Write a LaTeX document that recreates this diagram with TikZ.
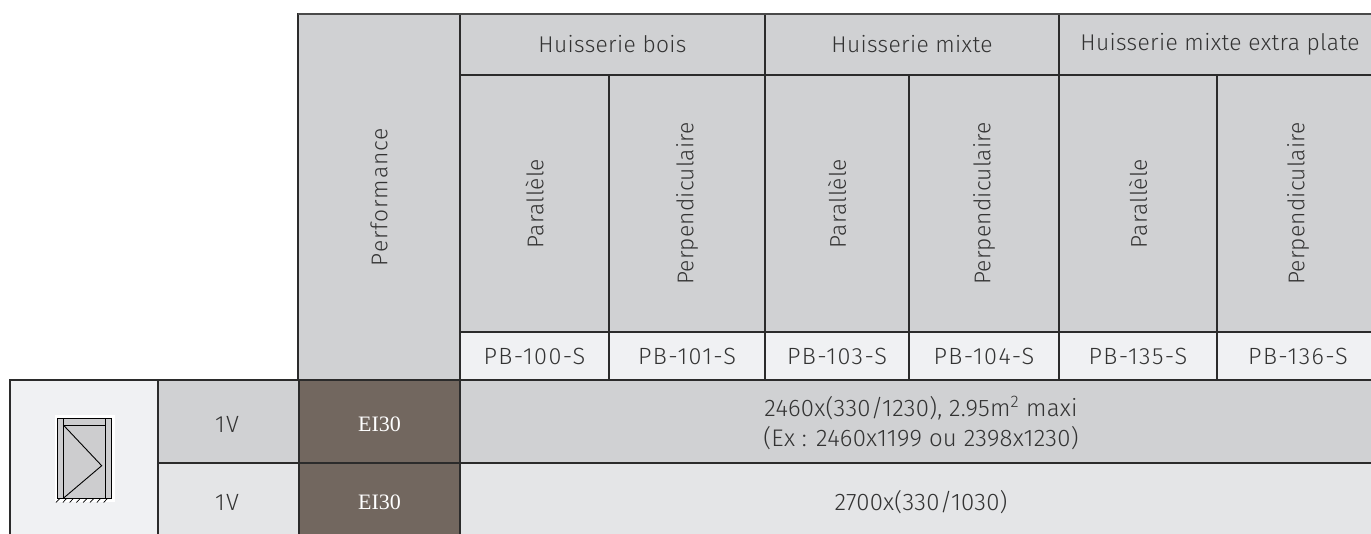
\documentclass[tikz,border=0pt]{standalone}
\usepackage{fontspec}
\setmainfont{Fira Sans}[UprightFont=* Light]
\newfontfamily\hfont{Fira Sans}[UprightFont=* Light, LetterSpace=1.5]
\newfontfamily\pfont{Fira Sans}[UprightFont=* Light, LetterSpace=4]
\newfontfamily\vfont{Fira Sans}[UprightFont=* Light, LetterSpace=1]
\newfontfamily\cfont{Fira Sans}[UprightFont=* Light, LetterSpace=6]
\newfontfamily\dfont{Fira Sans}[UprightFont=* Light, LetterSpace=1]
\newfontfamily\onefont{Fira Sans}[UprightFont=* Light, LetterSpace=6]
\newfontfamily\serifnum{Liberation Serif}
\definecolor{hdr}{HTML}{D0D1D3}
\definecolor{light}{HTML}{F0F1F3}
\definecolor{rowtwo}{HTML}{E4E5E7}
\definecolor{perf}{HTML}{72675F}
\definecolor{linec}{HTML}{2B2B2B}
\definecolor{topline}{HTML}{4A4A4A}
\definecolor{txtc}{HTML}{333333}
\definecolor{iconfill}{HTML}{CDCDCF}
\begin{document}
\begin{tikzpicture}[x=1pt,y=-1pt,
  cell/.style={draw=linec, line width=1.6pt, inner sep=0pt, outer sep=0pt, anchor=north west},
  txt/.style={inner sep=0pt, text=txtc},
  htxt/.style={txt, font=\hfont\fontsize{22.8}{26}\selectfont},
  ptxt/.style={txt, rotate=90, font=\pfont\fontsize{22.8}{26}\selectfont},
  vtxt/.style={txt, rotate=90, font=\vfont\fontsize{22.8}{26}\selectfont},
  ctxt/.style={txt, font=\cfont\fontsize{23.5}{26}\selectfont},
  onetxt/.style={txt, font=\onefont\fontsize{23.5}{26}\selectfont},
  dtxt/.style={txt, align=center, font=\dfont\fontsize{24}{29.3}\selectfont},
  eitxt/.style={inner sep=0pt, text=white, font=\serifnum\fontsize{22}{26}\selectfont},
  iconline/.style={draw=black, line width=0.9pt}]
\useasboundingbox (0,0) rectangle (1371,533);
\clip (0,0) rectangle (1371,533);
% header cells
\node[cell, fill=hdr, minimum width=162pt, minimum height=366pt] (perf) at (298,14) {};
\node[cell, fill=hdr, minimum width=305pt, minimum height=61pt] (hb) at (460,14) {};
\node[cell, fill=hdr, minimum width=294pt, minimum height=61pt] (hm) at (765,14) {};
\node[cell, fill=hdr, minimum width=330pt, minimum height=61pt] (hx) at (1059,14) {};
% orientation cells
\node[cell, fill=hdr, minimum width=149pt, minimum height=257pt] (o1) at (460,75) {};
\node[cell, fill=hdr, minimum width=156pt, minimum height=257pt] (o2) at (609,75) {};
\node[cell, fill=hdr, minimum width=144pt, minimum height=257pt] (o3) at (765,75) {};
\node[cell, fill=hdr, minimum width=150pt, minimum height=257pt] (o4) at (909,75) {};
\node[cell, fill=hdr, minimum width=158pt, minimum height=257pt] (o5) at (1059,75) {};
\node[cell, fill=hdr, minimum width=163pt, minimum height=257pt] (o6) at (1217,75) {};
% code cells
\node[cell, fill=light, minimum width=149pt, minimum height=48pt] (c1) at (460,332) {};
\node[cell, fill=light, minimum width=156pt, minimum height=48pt] (c2) at (609,332) {};
\node[cell, fill=light, minimum width=144pt, minimum height=48pt] (c3) at (765,332) {};
\node[cell, fill=light, minimum width=150pt, minimum height=48pt] (c4) at (909,332) {};
\node[cell, fill=light, minimum width=158pt, minimum height=48pt] (c5) at (1059,332) {};
\node[cell, fill=light, minimum width=163pt, minimum height=48pt] (c6) at (1217,332) {};
% top edge, lighter
\draw[topline, line width=1.4pt] (perf.north west) -- (1380,14);
% body rows
\node[cell, fill=light, minimum width=148pt, minimum height=170pt] (icon) at (10,380) {};
\node[cell, fill=hdr, minimum width=141pt, minimum height=83pt] (v1) at (158,380) {};
\node[cell, fill=rowtwo, minimum width=141pt, minimum height=80pt] (v2) at (158,463) {};
\node[cell, fill=perf, minimum width=161pt, minimum height=83pt] (e1) at (299,380) {};
\node[cell, fill=perf, minimum width=161pt, minimum height=80pt] (e2) at (299,463) {};
\node[cell, fill=hdr, minimum width=930pt, minimum height=83pt] (d1) at (460,380) {};
\node[cell, fill=rowtwo, minimum width=930pt, minimum height=80pt] (d2) at (460,463) {};
% texts
\node[ptxt] (tperf) at (perf.center) {Performance};
\node[htxt] (thb) at (hb.center) {Huisserie bois};
\node[htxt] (thm) at (hm.center) {Huisserie mixte};
\node[htxt] (thx) at (1220,44) {Huisserie mixte extra plate};
\node[vtxt] (to1) at (o1.center) {Parallèle};
\node[vtxt] (to2) at (o2.center) {Perpendiculaire};
\node[vtxt] (to3) at (o3.center) {Parallèle};
\node[vtxt] (to4) at (o4.center) {Perpendiculaire};
\node[vtxt] (to5) at (o5.center) {Parallèle};
\node[vtxt] (to6) at (1298,203.5) {Perpendiculaire};
\node[ctxt] (tc1) at (c1.center) {PB-100-S};
\node[ctxt] (tc2) at (c2.center) {PB-101-S};
\node[ctxt] (tc3) at (c3.center) {PB-103-S};
\node[ctxt] (tc4) at (c4.center) {PB-104-S};
\node[ctxt] (tc5) at (c5.center) {PB-135-S};
\node[ctxt] (tc6) at (1298,356) {PB-136-S};
\node[onetxt] (tv1) at (227,424) {1V};
\node[onetxt] (tv2) at (227,502.5) {1V};
\node[eitxt] (te1) at (379.5,424) {EI30};
\node[eitxt] (te2) at (379.5,502.5) {EI30};
\node[dtxt] (td1) at (921,423) {2460x(330/1230), 2.95m\textsuperscript{2} maxi\\(Ex : 2460x1199 ou 2398x1230)};
\node[dtxt] (td2) at (921,502) {2700x(330/1030)};
% door icon
\fill[white] (55,415) rectangle (115,502);
\filldraw[iconline, fill=iconfill] (57.3,418.3) rectangle (111.7,498.3);
\draw[iconline] (63.3,418.3) -- (63.3,498.3);
\draw[iconline] (105,418.3) -- (105,498.3);
\draw[iconline] (63.3,425) -- (105,425);
\draw[iconline] (63.3,425) -- (101.7,465.7) -- (63.3,498.3);
\foreach \i in {0,...,7} {
  \draw[black, line width=0.7pt] ({60+6.8*\i},498.3) -- ({56+6.8*\i},502.5);
}
\end{tikzpicture}
\end{document}
